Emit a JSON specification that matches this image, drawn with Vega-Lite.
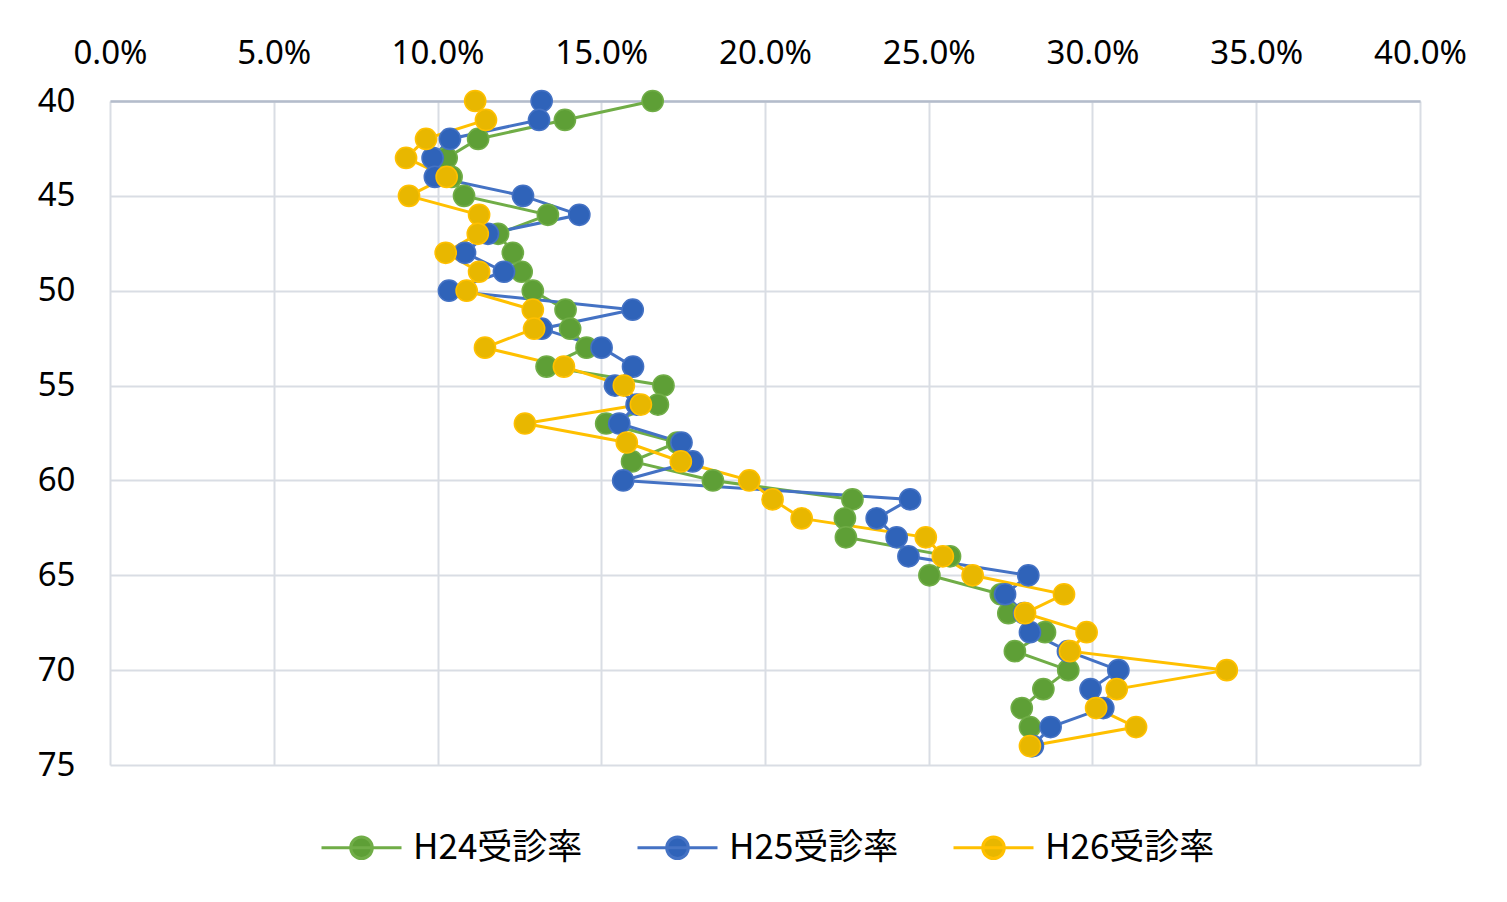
{
  "$schema": "https://vega.github.io/schema/vega-lite/v6.json",
  "width": 1310,
  "height": 664,
  "autosize": "none",
  "padding": {"left": 110, "top": 101, "right": 87, "bottom": 137},
  "background": "white",
  "datasets": {
    "rows": [
      {"age":40,"s":"H24受診率","v":0.1657},{"age":41,"s":"H24受診率","v":0.1389},{"age":42,"s":"H24受診率","v":0.1124},{"age":43,"s":"H24受診率","v":0.1028},{"age":44,"s":"H24受診率","v":0.1043},{"age":45,"s":"H24受診率","v":0.1081},{"age":46,"s":"H24受診率","v":0.1337},{"age":47,"s":"H24受診率","v":0.1185},{"age":48,"s":"H24受診率","v":0.1230},{"age":49,"s":"H24受診率","v":0.1257},{"age":50,"s":"H24受診率","v":0.1291},{"age":51,"s":"H24受診率","v":0.1391},{"age":52,"s":"H24受診率","v":0.1405},{"age":53,"s":"H24受診率","v":0.1455},{"age":54,"s":"H24受診率","v":0.1333},{"age":55,"s":"H24受診率","v":0.1690},{"age":56,"s":"H24受診率","v":0.1673},{"age":57,"s":"H24受診率","v":0.1515},{"age":58,"s":"H24受診率","v":0.1732},{"age":59,"s":"H24受診率","v":0.1594},{"age":60,"s":"H24受診率","v":0.1841},{"age":61,"s":"H24受診率","v":0.2267},{"age":62,"s":"H24受診率","v":0.2244},{"age":63,"s":"H24受診率","v":0.2247},{"age":64,"s":"H24受診率","v":0.2565},{"age":65,"s":"H24受診率","v":0.2502},{"age":66,"s":"H24受診率","v":0.2720},{"age":67,"s":"H24受診率","v":0.2743},{"age":68,"s":"H24受診率","v":0.2855},{"age":69,"s":"H24受診率","v":0.2763},{"age":70,"s":"H24受診率","v":0.2926},{"age":71,"s":"H24受診率","v":0.2850},{"age":72,"s":"H24受診率","v":0.2784},{"age":73,"s":"H24受診率","v":0.2809},{"age":74,"s":"H24受診率","v":0.2814},
      {"age":40,"s":"H25受診率","v":0.1318},{"age":41,"s":"H25受診率","v":0.1310},{"age":42,"s":"H25受診率","v":0.1038},{"age":43,"s":"H25受診率","v":0.0985},{"age":44,"s":"H25受診率","v":0.0992},{"age":45,"s":"H25受診率","v":0.1261},{"age":46,"s":"H25受診率","v":0.1433},{"age":47,"s":"H25受診率","v":0.1154},{"age":48,"s":"H25受診率","v":0.1084},{"age":49,"s":"H25受診率","v":0.1203},{"age":50,"s":"H25受診率","v":0.1035},{"age":51,"s":"H25受診率","v":0.1596},{"age":52,"s":"H25受診率","v":0.1318},{"age":53,"s":"H25受診率","v":0.1501},{"age":54,"s":"H25受診率","v":0.1597},{"age":55,"s":"H25受診率","v":0.1542},{"age":56,"s":"H25受診率","v":0.1608},{"age":57,"s":"H25受診率","v":0.1555},{"age":58,"s":"H25受診率","v":0.1745},{"age":59,"s":"H25受診率","v":0.1779},{"age":60,"s":"H25受診率","v":0.1567},{"age":61,"s":"H25受診率","v":0.2443},{"age":62,"s":"H25受診率","v":0.2341},{"age":63,"s":"H25受診率","v":0.2402},{"age":64,"s":"H25受診率","v":0.2438},{"age":65,"s":"H25受診率","v":0.2804},{"age":66,"s":"H25受診率","v":0.2733},{"age":67,"s":"H25受診率","v":0.2791},{"age":68,"s":"H25受診率","v":0.2809},{"age":69,"s":"H25受診率","v":0.2925},{"age":70,"s":"H25受診率","v":0.3079},{"age":71,"s":"H25受診率","v":0.2994},{"age":72,"s":"H25受診率","v":0.3033},{"age":73,"s":"H25受診率","v":0.2872},{"age":74,"s":"H25受診率","v":0.2818},
      {"age":40,"s":"H26受診率","v":0.1115},{"age":41,"s":"H26受診率","v":0.1148},{"age":42,"s":"H26受診率","v":0.0965},{"age":43,"s":"H26受診率","v":0.0904},{"age":44,"s":"H26受診率","v":0.1028},{"age":45,"s":"H26受診率","v":0.0913},{"age":46,"s":"H26受診率","v":0.1127},{"age":47,"s":"H26受診率","v":0.1123},{"age":48,"s":"H26受診率","v":0.1025},{"age":49,"s":"H26受診率","v":0.1127},{"age":50,"s":"H26受診率","v":0.1089},{"age":51,"s":"H26受診率","v":0.1291},{"age":52,"s":"H26受診率","v":0.1295},{"age":53,"s":"H26受診率","v":0.1145},{"age":54,"s":"H26受診率","v":0.1386},{"age":55,"s":"H26受診率","v":0.1569},{"age":56,"s":"H26受診率","v":0.1621},{"age":57,"s":"H26受診率","v":0.1267},{"age":58,"s":"H26受診率","v":0.1578},{"age":59,"s":"H26受診率","v":0.1743},{"age":60,"s":"H26受診率","v":0.1952},{"age":61,"s":"H26受診率","v":0.2023},{"age":62,"s":"H26受診率","v":0.2112},{"age":63,"s":"H26受診率","v":0.2491},{"age":64,"s":"H26受診率","v":0.2543},{"age":65,"s":"H26受診率","v":0.2634},{"age":66,"s":"H26受診率","v":0.2913},{"age":67,"s":"H26受診率","v":0.2794},{"age":68,"s":"H26受診率","v":0.2982},{"age":69,"s":"H26受診率","v":0.2931},{"age":70,"s":"H26受診率","v":0.3410},{"age":71,"s":"H26受診率","v":0.3074},{"age":72,"s":"H26受診率","v":0.3011},{"age":73,"s":"H26受診率","v":0.3133},{"age":74,"s":"H26受診率","v":0.2809}
    ]
  },
  "data": {"name": "rows"},
  "encoding": {
    "x": {
      "field": "v", "type": "quantitative",
      "scale": {"domain": [0, 0.4], "nice": false, "zero": true},
      "axis": {
        "orient": "top", "format": ".1%", "values": [0,0.05,0.1,0.15,0.2,0.25,0.3,0.35,0.4],
        "title": null, "ticks": false, "labelPadding": 31, "labelFlush": false, "labelBound": false, "labelOverlap": false,
        "labelFont": "Noto Sans", "labelFontSize": 33, "labelColor": "#000000",
        "domain": true, "domainColor": "#b4bccb", "domainWidth": 2.5,
        "grid": true, "gridColor": "#d9dde4", "gridWidth": 2
      }
    },
    "y": {
      "field": "age", "type": "quantitative",
      "scale": {"domain": [40, 75], "reverse": true, "nice": false, "zero": false},
      "axis": {
        "values": [40,45,50,55,60,65,70,75], "title": null, "ticks": false, "labelPadding": 35,
        "labelFlush": false, "labelBound": false, "labelOverlap": false,
        "labelFont": "Noto Sans", "labelFontSize": 33, "labelColor": "#000000",
        "domain": false, "grid": true, "gridColor": "#d9dde4", "gridWidth": 2
      }
    }
  },
  "layer": [
    {
      "mark": {"type": "line", "strokeWidth": 3},
      "encoding": {
        "order": {"field": "age", "type": "quantitative"},
        "color": {
          "field": "s", "type": "nominal",
          "scale": {"domain": ["H24受診率","H25受診率","H26受診率"], "range": ["#70ad47","#4472c4","#ffc000"]},
          "legend": {
            "orient": "none", "legendX": 210, "legendY": 705, "direction": "horizontal", "title": null,
            "symbolType": "M-1,0L1,0M-0.27,0A0.27,0.27,0,1,0,0.27,0A0.27,0.27,0,1,0,-0.27,0Z",
            "symbolSize": 6400, "symbolStrokeWidth": 3, "labelOffset": 10, "columnPadding": 48,
            "labelFont": "Noto Sans CJK JP", "labelFontSize": 35, "labelColor": "#000000", "labelLimit": 400,
            "encode": {"symbols": {"update": {"fill": {"scale": "color", "field": "value"}, "stroke": {"scale": "color", "field": "value"}, "opacity": {"value": 1}}}}
          }
        }
      }
    },
    {
      "mark": {"type": "circle", "size": 450, "strokeWidth": 1.5, "opacity": 1},
      "encoding": {
        "fill": {
          "field": "s", "type": "nominal",
          "scale": {"domain": ["H24受診率","H25受診率","H26受診率"], "range": ["#5e9f36","#2f63b9","#e8b700"]},
          "legend": null
        },
        "stroke": {
          "field": "s", "type": "nominal",
          "scale": {"domain": ["H24受診率","H25受診率","H26受診率"], "range": ["#70ad47","#4472c4","#ffc000"]},
          "legend": null
        }
      }
    }
  ],
  "config": {"view": {"stroke": null}}
}
